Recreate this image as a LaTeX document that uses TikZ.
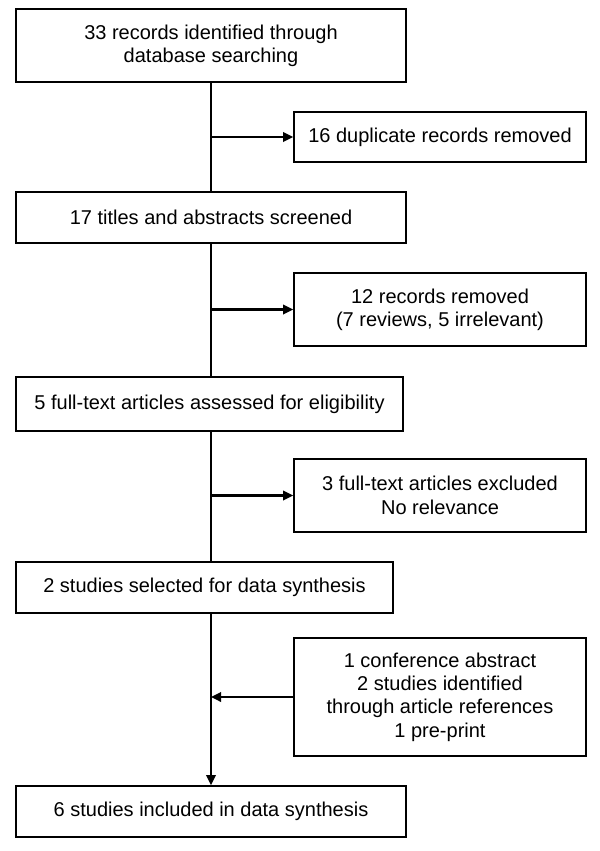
\documentclass[tikz,border=0pt]{standalone}
\usepackage{fontspec}
\setmainfont{Liberation Sans}
\usetikzlibrary{arrows.meta}
\tikzset{
  stage/.style={draw,line width=1.2pt,align=center,inner sep=0pt,font=\fontsize{15}{17.5}\selectfont},
  mainbox/.style={stage,minimum width=292.5pt},
  sidebox/.style={stage,minimum width=219pt},
  flow/.style={line width=1.7pt,-{Triangle[length=7.5pt,width=7pt]}},
  trunk/.style={line width=1.7pt}
}
\begin{document}
\begin{tikzpicture}[x=0.75pt,y=-0.75pt]
\useasboundingbox (0,0) rectangle (600,851);
% main column
\node[mainbox,minimum height=54.75pt] (rec) at (211,45.5) {33 records identified through\\database searching};
\node[mainbox,minimum height=38.25pt] (scr) at (211,217.5) {17 titles and abstracts screened};
\node[stage,minimum width=290.25pt,minimum height=40.5pt] (full) at (209.5,404) {5 full-text articles assessed for eligibility};
\node[stage,minimum width=282.75pt,minimum height=38.25pt] (sel) at (204.5,587.5) {2 studies selected for data synthesis};
\node[mainbox,minimum height=38.25pt] (incl) at (211,811.5) {6 studies included in data synthesis};
% side boxes
\node[sidebox,minimum height=37.5pt] (dup) at (440,137) {16 duplicate records removed};
\node[sidebox,minimum height=54.75pt] (rem) at (440,309.5) {12 records removed\\(7 reviews, 5 irrelevant)};
\node[sidebox,minimum height=54.75pt] (excl) at (440,495.5) {3 full-text articles excluded\\No relevance};
\node[sidebox,minimum height=88.5pt] (extra) at (440,697) {1 conference abstract\\2 studies identified\\through article references\\1 pre-print};
% connectors
\draw[trunk] (rec.south) -- (scr.north);
\draw[trunk] (scr.south) -- (full.north -| scr.south);
\draw[trunk] (full.south -| scr.south) -- (sel.north -| scr.south);
\draw[flow] (sel.south -| rec.south) -- (incl.north);
\draw[flow] (rec.south |- dup.west) -- (dup.west);
\draw[flow] (rec.south |- rem.west) -- (rem.west);
\draw[flow] (rec.south |- excl.west) -- (excl.west);
\draw[flow] (extra.west) -- (extra.west -| rec.south);
\end{tikzpicture}
\end{document}
